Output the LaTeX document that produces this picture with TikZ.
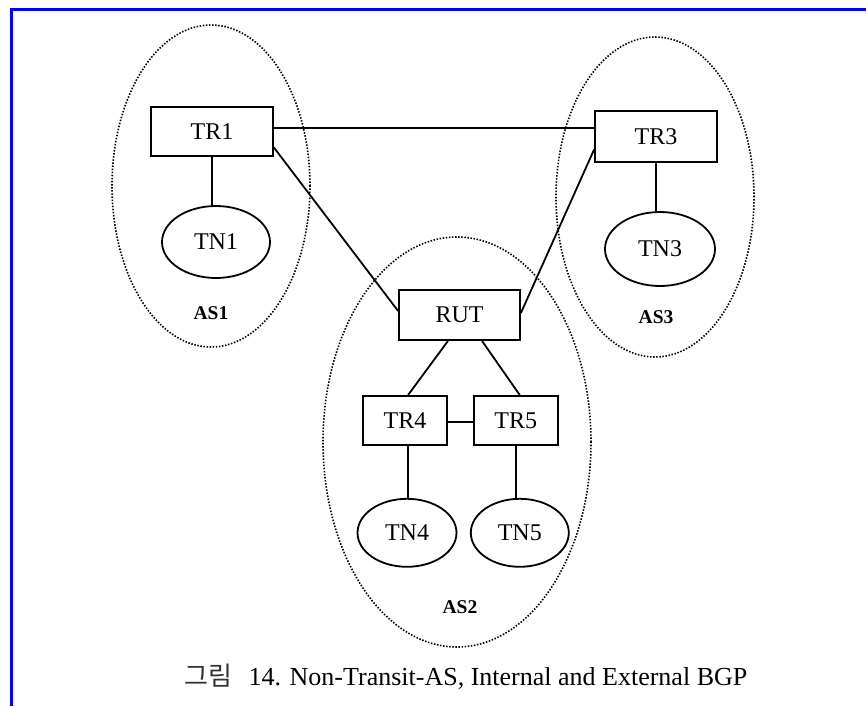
\documentclass[tikz,border=0pt]{standalone}
\usepackage{fontspec}
\setmainfont{Liberation Serif}
\newfontfamily\krfont{Noto Sans CJK KR}
\usetikzlibrary{positioning,shapes.geometric}

\begin{document}
\begin{tikzpicture}[x=1pt, y=-1pt,
  router/.style={draw, line width=1.8pt, minimum height=49pt, inner sep=0pt, font=\fontsize{24}{28}\selectfont},
  net/.style={draw, ellipse, line width=1.8pt, inner sep=0pt, font=\fontsize{24}{28}\selectfont},
  asarea/.style={draw, ellipse, line width=1.6pt, dash pattern=on 1.5pt off 1.6pt, inner sep=0pt},
  lab/.style={font=\fontsize{19.5}{22}\selectfont\bfseries},
  link/.style={line width=1.8pt}
]
\useasboundingbox (0,0) rectangle (866,706);
% page frame
\draw[blue, line width=2.6pt] (11.5,706) -- (11.5,9.3) -- (866,9.3);
% AS areas
\node[asarea, minimum width=198pt, minimum height=322pt] (as1) at (211,186) {};
\node[asarea, minimum width=268pt, minimum height=410pt] (as2) at (457,442) {};
\node[asarea, minimum width=198pt, minimum height=320pt] (as3) at (655,197) {};
% routers
\node[router, minimum width=122pt] (TR1) at (212,131.5) {TR1};
\node[router, minimum width=122pt, minimum height=51pt] (TR3) at (656,136.5) {TR3};
\node[router, minimum width=121pt, minimum height=50pt] (RUT) at (459.5,315) {RUT};
\node[router, minimum width=84pt] (TR4) at (405,420.5) {TR4};
\node[router, minimum width=84pt, right=25pt of TR4] (TR5) {TR5};
% networks
\node[net, minimum width=108pt, minimum height=72pt] (TN1) at (216,242) {TN1};
\node[net, minimum width=110pt, minimum height=74pt] (TN3) at (660,249) {TN3};
\node[net, minimum width=99pt, minimum height=68pt, below=52pt of TR4, xshift=2pt] (TN4) {TN4};
\node[net, minimum width=98pt, minimum height=68pt, below=52pt of TR5, xshift=4pt] (TN5) {TN5};
% labels
\node[lab] (AS1) at (211,313) {AS1};
\node[lab] (AS3) at (656,317) {AS3};
\node[lab] (AS2) at (460,607) {AS2};
% links
\draw[link] ([yshift=3.5pt]TR1.east) -- ([yshift=3.5pt]TR1.east -| TR3.west);
\draw[link] ([yshift=-16pt]TR1.east) -- ([yshift=4pt]RUT.west);
\draw[link] ([yshift=-13pt]TR3.west) -- ([yshift=2pt]RUT.east);
\draw[link] (TR1.south) -- (TR1.south |- TN1.north);
\draw[link] (TR3.south) -- (TR3.south |- TN3.north);
\draw[link] ([xshift=-11.5pt]RUT.south) -- ([xshift=3pt]TR4.north);
\draw[link] ([xshift=22.5pt]RUT.south) -- ([xshift=4pt]TR5.north);
\draw[link] ([yshift=-1.5pt]TR4.east) -- ([yshift=-1.5pt]TR5.west);
\draw[link] ([xshift=3pt]TR4.south) -- ([xshift=3pt]TR4.south |- TN4.north);
\draw[link] (TR5.south) -- (TR5.south |- TN5.north);
% caption
\node[font=\fontsize{26}{30}\selectfont] (cap) at (466,677) {{\krfont\color{black!80}그림}\hspace{16pt}14. Non-Transit-AS, Internal and External BGP};
\end{tikzpicture}
\end{document}
